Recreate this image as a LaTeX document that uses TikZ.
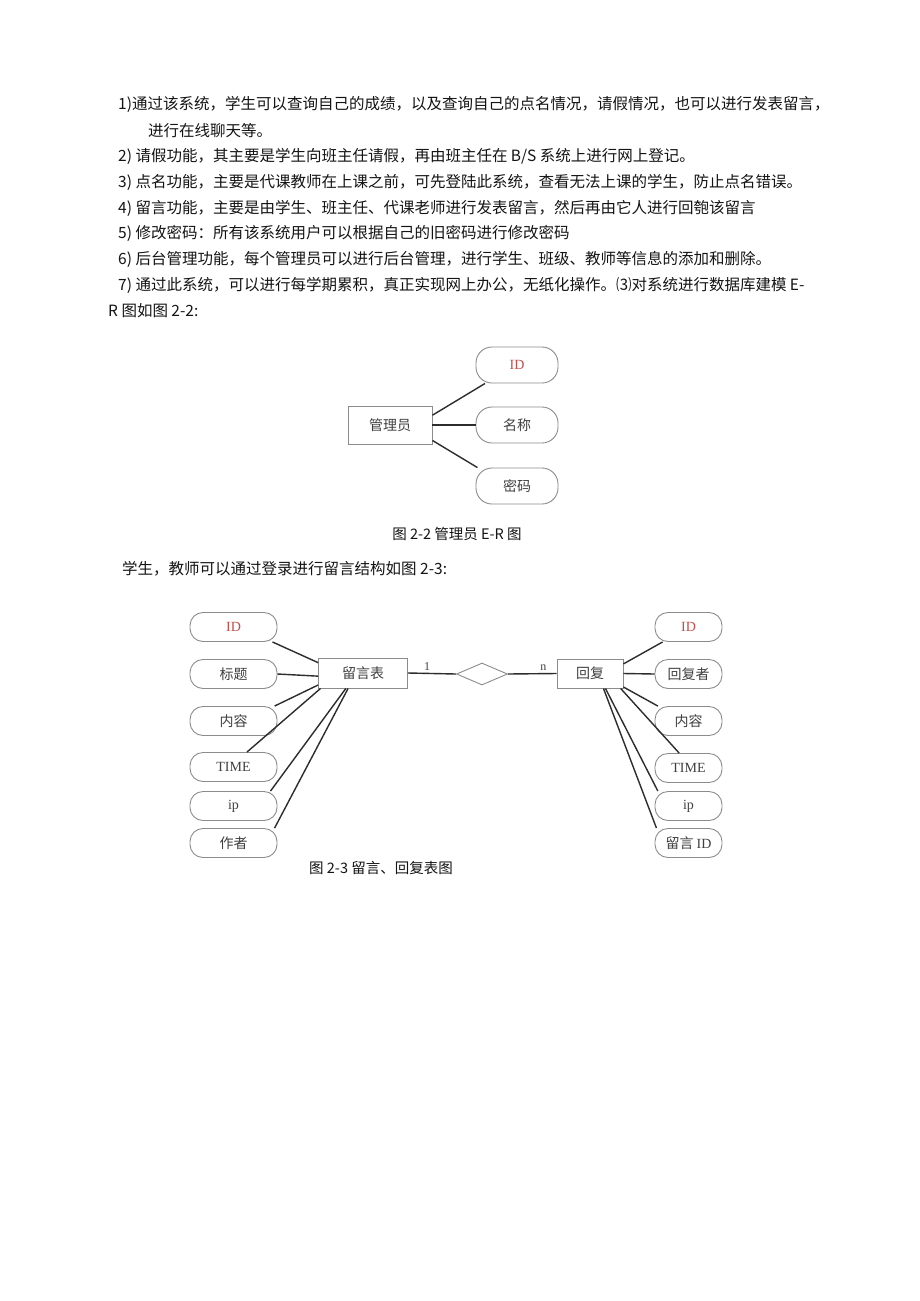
\documentclass[tikz,border=0pt]{standalone}
\usepackage{fontspec}
\setmainfont{Noto Sans CJK SC}
\newfontfamily\lat{Liberation Serif}
\usetikzlibrary{shapes.geometric}
\definecolor{idred}{RGB}{192,80,77}
\definecolor{boxgray}{RGB}{140,140,140}
\definecolor{linedark}{RGB}{45,45,45}
\definecolor{txt}{RGB}{20,20,20}
\begin{document}
\begin{tikzpicture}[x=1pt,y=-1pt,
  body/.style={anchor=west,inner sep=0pt,font=\fontsize{15.5}{18}\selectfont,text=txt},
  captext/.style={inner sep=0pt,font=\fontsize{14.5}{17}\selectfont,text=txt},
  attrA/.style={draw=boxgray,line width=0.9pt,rounded corners=16pt,minimum width=82pt,minimum height=36pt,inner sep=0pt,font=\fontsize{14}{16}\selectfont,text=black!75},
  attrB/.style={draw=boxgray,line width=0.9pt,rounded corners=13pt,minimum height=29pt,inner sep=0pt,font=\fontsize{14}{16}\selectfont,text=black!75},
  ent/.style={draw=boxgray,line width=0.9pt,inner sep=0pt,font=\fontsize{14}{16}\selectfont,text=black!75},
  link/.style={draw=linedark,line width=1.4pt},
  lbl/.style={inner sep=2pt,font=\lat\fontsize{12}{14}\selectfont,text=black!75}]
\path[fill=white] (0,0) rectangle (920,1301);

% body text
\node[body] (t1) at (118,104) {1)通过该系统，学生可以查询自己的成绩，以及查询自己的点名情况，请假情况，也可以进行发表留言，};
\node[body] (t2) at (148,131) {进行在线聊天等。};
\node[body] (t3) at (118,156) {2) 请假功能，其主要是学生向班主任请假，再由班主任在 B/S 系统上进行网上登记。};
\node[body] (t4) at (118,182) {3) 点名功能，主要是代课教师在上课之前，可先登陆此系统，查看无法上课的学生，防止点名错误。};
\node[body] (t5) at (118,208) {4) 留言功能，主要是由学生、班主任、代课老师进行发表留言，然后再由它人进行回匏该留言};
\node[body] (t6) at (118,233) {5) 修改密码：所有该系统用户可以根据自己的旧密码进行修改密码};
\node[body] (t7) at (118,259) {6) 后台管理功能，每个管理员可以进行后台管理，进行学生、班级、教师等信息的添加和删除。};
\node[body] (t8) at (118,285) {7) 通过此系统，可以进行每学期累积，真正实现网上办公，无纸化操作。⑶对系统进行数据库建模 E-};
\node[body] (t9) at (108,311) {R 图如图 2-2:};

% diagram 1
\node[ent,minimum width=84pt,minimum height=38pt] (adm) at (390,425) {管理员};
\node[attrA,text=idred] (aid) at (517,365) {\lat ID};
\node[attrA] (anm) at (517,425) {名称};
\node[attrA] (apw) at (517,486) {密码};
\draw[link] (adm.13) -- (aid.210);
\draw[link] (adm.east) -- (anm.west);
\draw[link] (adm.-20) -- (apw.155);
\node[captext] (cap1) at (457,534) {图 2-2 管理员 E-R 图};

\node[body] (t10) at (122,569) {学生，教师可以通过登录进行留言结构如图 2-3:};

% diagram 2 left
\node[ent,minimum width=89pt,minimum height=30pt] (ly) at (363,673) {留言表};
\node[attrB,minimum width=87pt,text=idred] (lid) at (233.5,627) {\lat ID};
\node[attrB,minimum width=87pt] (lbt) at (233.5,674) {标题};
\node[attrB,minimum width=87pt] (lnr) at (233.5,721) {内容};
\node[attrB,minimum width=87pt] (ltm) at (233.5,767) {\lat TIME};
\node[attrB,minimum width=87pt] (lip) at (233.5,806) {\lat ip};
\node[attrB,minimum width=87pt] (lzz) at (233.5,843) {作者};
\draw[link] (ly.167) -- (lid.-21);
\draw[link] (ly.184) -- (lbt.east);
\draw[link] (ly.195) -- (lnr.20);
\draw[link] (ly.200) -- (ltm.48);
\draw[link] (ly.222) -- (lip.22);
\draw[link] (ly.226) -- (lzz.20);

% relationship
\node[diamond,draw=boxgray,line width=0.9pt,inner sep=0pt,minimum width=51pt,minimum height=22pt] (rel) at (482,674) {};
\node[ent,minimum width=66pt,minimum height=29pt] (hf) at (590,673.5) {回复};
\draw[link] (ly.east) -- node[lbl,pos=0.4,above] {1} (rel.west);
\draw[link] (rel.east) -- node[lbl,pos=0.73,above] {n} (hf.west);

% diagram 2 right
\node[attrB,minimum width=67pt,text=idred] (rid) at (688.5,627) {\lat ID};
\node[attrB,minimum width=67pt] (rhf) at (688.5,674) {回复者};
\node[attrB,minimum width=67pt] (rnr) at (688.5,721) {内容};
\node[attrB,minimum width=67pt] (rtm) at (688.5,768) {\lat TIME};
\node[attrB,minimum width=67pt] (rip) at (688.5,806) {\lat ip};
\node[attrB,minimum width=67pt] (rly) at (688.5,843) {留言 {\lat ID}};
\draw[link] (hf.16) -- (rid.210);
\draw[link] (hf.east) -- (rhf.west);
\draw[link] (hf.-22) -- (rnr.154);
\draw[link] (hf.-26) -- (rtm.122);
\draw[link] (hf.-44) -- (rip.154);
\draw[link] (hf.-48) -- (rly.155);

\node[captext,anchor=west] (cap2) at (309,868) {图 2-3 留言、回复表图};
\end{tikzpicture}
\end{document}
